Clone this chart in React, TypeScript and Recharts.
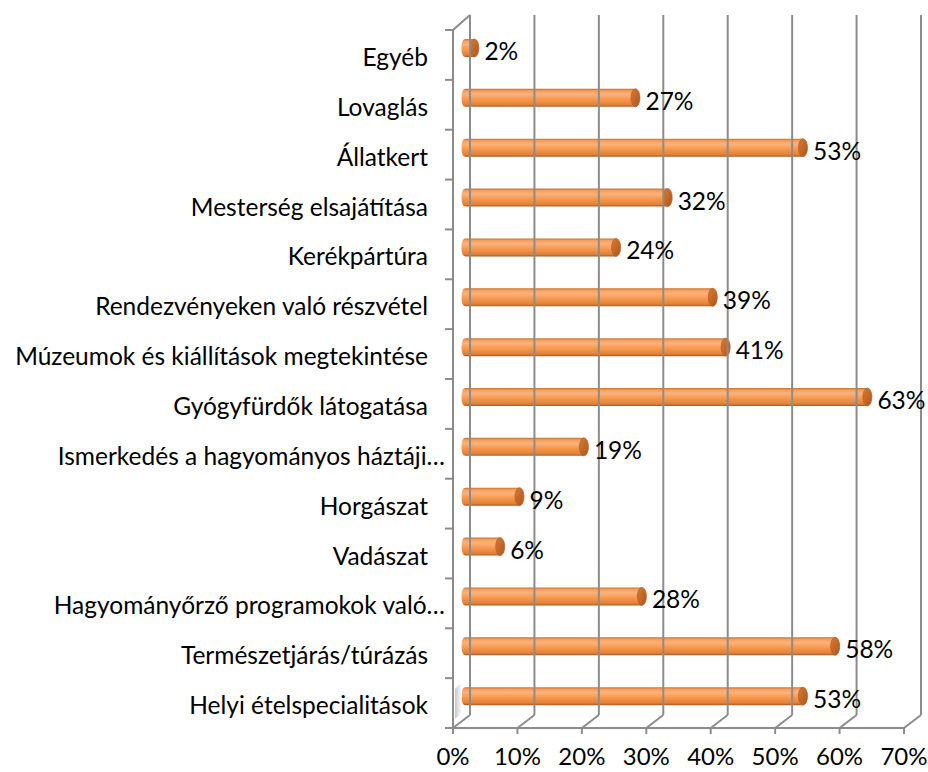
import React from 'react';
import { BarChart, Bar, XAxis, YAxis, LabelList } from 'recharts';

const categories = [
  'Egyéb',
  'Lovaglás',
  'Állatkert',
  'Mesterség elsajátítása',
  'Kerékpártúra',
  'Rendezvényeken való részvétel',
  'Múzeumok és kiállítások megtekintése',
  'Gyógyfürdők látogatása',
  'Ismerkedés a hagyományos háztáji…',
  'Horgászat',
  'Vadászat',
  'Hagyományőrző programokok való…',
  'Természetjárás/túrázás',
  'Helyi ételspecialitások',
];
const values = [2, 27, 53, 32, 24, 39, 41, 63, 19, 9, 6, 28, 58, 53];
const xTicks = [0, 10, 20, 30, 40, 50, 60, 70];

const data = categories.map((name, i) => ({ name, value: values[i] }));

const W = 928;
const H = 772;
const M = { top: 30, right: 24, bottom: 0, left: 0 };
const X_AXIS_H = 44;
const Y_AXIS_W = 453;
const PLOT_TOP = M.top;
const PLOT_BOTTOM = H - M.bottom - X_AXIS_H;
const BAND = (PLOT_BOTTOM - PLOT_TOP) / categories.length;
const DX = 17;
const DY = -13;
const GRID = '#8c8c8c';
const FONT = 'Lato, "Open Sans", sans-serif';
const FS = 24.5;

const XTick = (props: any) => {
  const { x, payload } = props;
  const bx = x + DX;
  return (
    <g>
      <line x1={x} y1={PLOT_BOTTOM} x2={bx} y2={PLOT_BOTTOM + DY} stroke={GRID} strokeWidth={2} />
      <line x1={bx} y1={PLOT_BOTTOM + DY} x2={bx} y2={PLOT_TOP - 15} stroke={GRID} strokeWidth={2} />
      {payload.value === 0 && (
        <line x1={x} y1={PLOT_TOP} x2={bx} y2={PLOT_TOP - 15} stroke={GRID} strokeWidth={2} />
      )}
      <text x={x} y={PLOT_BOTTOM + 37} textAnchor="middle" fontFamily={FONT} fontSize={24} fill="#000">
        {payload.value + '%'}
      </text>
    </g>
  );
};

const YTick = (props: any) => {
  const { y, payload, index } = props;
  const label: string = payload.value;
  const truncated = label.endsWith('…');
  const axisX = Y_AXIS_W;
  const last = index === categories.length - 1;
  return (
    <g>
      <line x1={axisX - 8} y1={y - BAND / 2} x2={axisX} y2={y - BAND / 2} stroke={GRID} strokeWidth={2} />
      {last && (
        <line x1={axisX - 8} y1={y + BAND / 2} x2={axisX} y2={y + BAND / 2} stroke={GRID} strokeWidth={2} />
      )}
      {last && (
        <polygon
          points={`${axisX + 2},${y - 14} ${axisX + 9},${y - 21} ${axisX + 9},${y + 9} ${axisX + 2},${y + 16}`}
          fill="url(#wallShadow)"
        />
      )}
      <text
        x={truncated ? 445 : 428}
        y={y + 11}
        textAnchor="end"
        fontFamily={FONT}
        fontSize={FS}
        fill="#000"
      >
        {label}
      </text>
    </g>
  );
};

const BX = 8.5;
const BY = -7;

const CylinderBar = (props: any) => {
  const { x, y, width, height } = props;
  const x0 = x + BX;
  const y0 = y + BY;
  const r = height / 2;
  const rx = 4.5;
  const x1 = x0 + Math.max(width, 2);
  return (
    <g>
      <path
        d={`M ${x0 + 4} ${y0} L ${x1} ${y0} L ${x1} ${y0 + height} L ${x0 + 4} ${y0 + height} Q ${x0} ${y0 + height} ${x0} ${y0 + r} Q ${x0} ${y0} ${x0 + 4} ${y0} Z`}
        fill="url(#cyl)"
      />
      <ellipse cx={x1} cy={y0 + r} rx={rx} ry={r} fill="url(#cap)" stroke="#b8632a" strokeWidth={0.8} />
    </g>
  );
};

const BarLabel = (props: any) => {
  const { x, y, width, height, value } = props;
  return (
    <text
      x={x + BX + width + 10}
      y={y + BY + height / 2 + 12}
      textAnchor="start"
      fontFamily={FONT}
      fontSize={FS}
      fill="#000"
    >
      {value + '%'}
    </text>
  );
};

export default function App() {
  return (
    <div style={{ position: 'absolute', left: 0, top: 0, width: W, height: H, background: '#fff' }}>
      <BarChart width={W} height={H} data={data} layout="vertical" margin={M} barSize={18}>
        <defs>
          <linearGradient id="cyl" x1="0" y1="0" x2="0" y2="1">
            <stop offset="0%" stopColor="#c8712e" />
            <stop offset="12%" stopColor="#f7a060" />
            <stop offset="30%" stopColor="#fbb27c" />
            <stop offset="60%" stopColor="#f6964a" />
            <stop offset="88%" stopColor="#e0823a" />
            <stop offset="100%" stopColor="#a95a22" />
          </linearGradient>
          <linearGradient id="cap" x1="0" y1="0" x2="1" y2="1">
            <stop offset="0%" stopColor="#d67a34" />
            <stop offset="60%" stopColor="#c06426" />
            <stop offset="100%" stopColor="#a85620" />
          </linearGradient>
          <linearGradient id="wallShadow" x1="0" y1="0" x2="1" y2="0">
            <stop offset="0%" stopColor="#c8c8c8" />
            <stop offset="100%" stopColor="#ffffff" />
          </linearGradient>
        </defs>
        <XAxis
          type="number"
          domain={[0, 70]}
          ticks={xTicks}
          interval={0}
          height={X_AXIS_H}
          axisLine={{ stroke: GRID, strokeWidth: 2 }}
          tickLine={{ stroke: GRID, strokeWidth: 2 }}
          tickSize={6}
          tick={<XTick />}
        />
        <YAxis
          type="category"
          dataKey="name"
          width={Y_AXIS_W}
          interval={0}
          axisLine={{ stroke: GRID, strokeWidth: 2 }}
          tickLine={false}
          tick={<YTick />}
        />
        <Bar dataKey="value" shape={<CylinderBar />} isAnimationActive={false}>
          <LabelList dataKey="value" content={<BarLabel />} />
        </Bar>
      </BarChart>
    </div>
  );
}
